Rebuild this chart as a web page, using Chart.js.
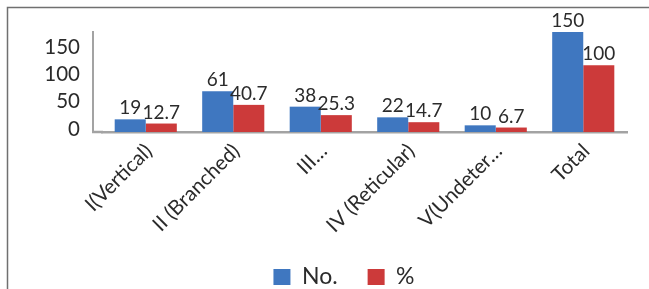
<!DOCTYPE html>
<html>
<head>
<meta charset="utf-8">
<script src="https://cdn.jsdelivr.net/npm/chart.js@4/dist/chart.umd.min.js"></script>
<style>
  html, body { margin: 0; padding: 0; background: #fff; }
  #wrap { position: relative; width: 649px; height: 289px; }
  canvas { display: block; }
</style>
</head>
<body>
<div id="wrap"><canvas id="c" width="649" height="289"></canvas></div>
<script>
// ---- data ----
const categories = ["I(Vertical)", "II (Branched)", "III…", "IV (Reticular)", "V(Undeter…", "Total"];
const seriesNames = ["No.", "%"];
const countValues = [19, 61, 38, 22, 10, 150];
const percentValues = [12.7, 40.7, 25.3, 14.7, 6.7, 100];
const yTickLabels = [0, 50, 100, 150];

const FONT = "Lato, 'Open Sans', sans-serif";
const TEXT = "#2b2b2b";
const AXIS = "#a3a3a3";
const BLUE = "#3f77c0";
const RED = "#cc3a3a";

const frameAndLabels = {
  id: "frameAndLabels",
  afterLayout(chart) {
    // nudge the legend block slightly to the right
    const lg = chart.legend;
    if (lg) { lg.left += 8; lg.right += 8; }
  },
  beforeDraw(chart) {
    const ctx = chart.ctx;
    ctx.save();
    ctx.strokeStyle = "#707070";
    ctx.lineWidth = 1.5;
    ctx.beginPath();
    ctx.moveTo(7.5, 289);
    ctx.lineTo(7.5, 7.5);
    ctx.lineTo(649, 7.5);
    ctx.stroke();
    ctx.restore();
  },
  afterDraw(chart) {
    const ctx = chart.ctx;
    const area = chart.chartArea;
    const yl = chart.scales.yl;
    ctx.save();
    ctx.strokeStyle = AXIS;
    ctx.lineWidth = 2.5;
    ctx.beginPath();
    ctx.moveTo(yl.right - 1, area.bottom);
    ctx.lineTo(area.left + 1, area.bottom);
    ctx.stroke();
    ctx.restore();
  },
  afterDatasetsDraw(chart) {
    const ctx = chart.ctx;
    ctx.save();
    ctx.font = "19px " + FONT;
    ctx.fillStyle = TEXT;
    ctx.textAlign = "center";
    ctx.textBaseline = "alphabetic";
    chart.data.datasets.forEach((ds, di) => {
      const meta = chart.getDatasetMeta(di);
      meta.data.forEach((el, i) => {
        ctx.fillText(String(ds.data[i]), el.x, el.y - 5);
      });
    });
    ctx.restore();
  }
};

new Chart(document.getElementById("c"), {
  type: "bar",
  data: {
    labels: categories,
    datasets: [
      { label: seriesNames[0], data: countValues, backgroundColor: BLUE, yAxisID: "y" },
      { label: seriesNames[1], data: percentValues, backgroundColor: RED, yAxisID: "y" }
    ]
  },
  options: {
    responsive: false,
    animation: false,
    devicePixelRatio: 1,
    layout: { padding: { top: 32, left: 45, right: 22, bottom: -9.5 } },
    datasets: { bar: { barPercentage: 1, categoryPercentage: 0.71 } },
    plugins: {
      legend: {
        position: "bottom",
        labels: {
          boxWidth: 17,
          boxHeight: 16,
          padding: 30,
          color: TEXT,
          font: { size: 23, family: FONT }
        }
      },
      tooltip: { enabled: false }
    },
    scales: {
      x: {
        grid: { display: false, drawTicks: false },
        border: { display: true, color: AXIS, width: 2.5 },
        ticks: {
          autoSkip: false,
          maxRotation: 45,
          minRotation: 45,
          padding: 7,
          labelOffset: 3,
          color: TEXT,
          font: { size: 20.5, family: FONT }
        },
        afterFit: s => { s.height = 103.5; }
      },
      y: {
        position: "left",
        weight: 0,
        min: 0,
        max: 150,
        grid: { display: false, drawTicks: false },
        border: { display: false },
        ticks: { display: false },
        afterFit: s => { s.width = 9; }
      },
      yl: {
        type: "linear",
        position: "left",
        weight: 1,
        min: -5.5,
        max: 178.5,
        afterBuildTicks: s => { s.ticks = yTickLabels.map(v => ({ value: v })); },
        grid: { display: false, drawTicks: false },
        border: { display: true, color: AXIS, width: 2 },
        ticks: { padding: 13, color: TEXT, font: { size: 20.5, family: FONT } },
        afterFit: s => { s.width = 48; }
      }
    }
  },
  plugins: [frameAndLabels]
});
</script>
</body>
</html>
